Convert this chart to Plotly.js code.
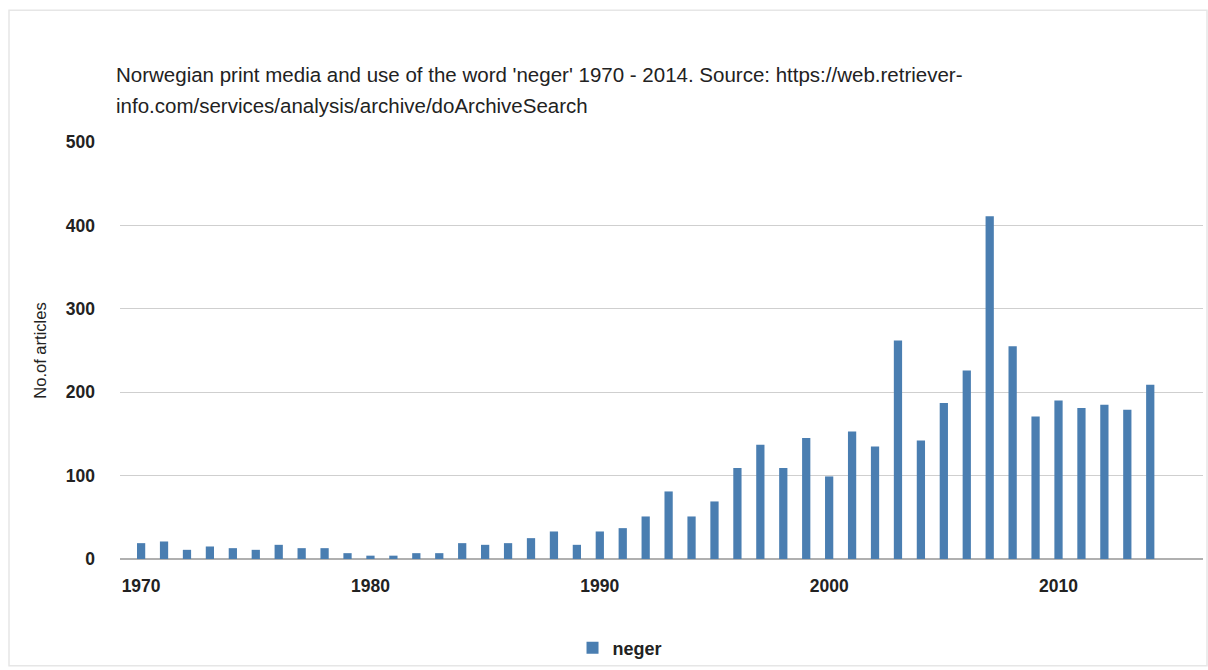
<!DOCTYPE html>
<html>
<head>
<meta charset="utf-8">
<script src="https://cdn.plot.ly/plotly-3.0.1.min.js"></script>
<style>
  html, body { margin: 0; padding: 0; background: #fff; }
  #chart { width: 1208px; height: 670px; }
</style>
</head>
<body>
<div id="chart"></div>
<script>
const years = [1970,1971,1972,1973,1974,1975,1976,1977,1978,1979,
               1980,1981,1982,1983,1984,1985,1986,1987,1988,1989,
               1990,1991,1992,1993,1994,1995,1996,1997,1998,1999,
               2000,2001,2002,2003,2004,2005,2006,2007,2008,2009,
               2010,2011,2012,2013,2014];
const articles = [19,21,11,15,13,11,17,13,13,7,
                  4,4,7,7,19,17,19,25,33,17,
                  33,37,51,81,51,69,109,137,109,145,
                  99,153,135,262,142,187,226,411,255,171,
                  190,181,185,179,209];
const seriesName = 'neger';
const titleLine1 = "Norwegian print media and use of the word 'neger' 1970 - 2014. Source: https://web.retriever-";
const titleLine2 = "info.com/services/analysis/archive/doArchiveSearch";
const yTicks = [0,100,200,300,400,500];
const xTicks = [1970,1980,1990,2000,2010];

const trace = {
  type: 'bar',
  x: years,
  y: articles,
  name: seriesName,
  width: 0.36,
  marker: { color: '#4a7eb1' },
  showlegend: true
};

const font = "'Liberation Sans', Arial, sans-serif";

const layout = {
  width: 1208,
  height: 670,
  margin: { l: 120, r: 5, t: 142, b: 110 },
  paper_bgcolor: '#ffffff',
  plot_bgcolor: '#ffffff',
  font: { family: font, color: '#222222' },
  title: {
    text: titleLine1,
    font: { family: font, size: 20.5, color: '#222222' },
    x: 116 / 1208,
    xref: 'container',
    xanchor: 'left',
    y: 1 - 75 / 670,
    yref: 'container',
    yanchor: 'middle'
  },
  annotations: [{
    text: titleLine2,
    xref: 'paper', yref: 'paper',
    x: (114 - 120) / 1083,
    y: (560 - 105) / 418,
    xanchor: 'left', yanchor: 'middle',
    showarrow: false,
    font: { family: font, size: 20.5, color: '#222222' }
  }],
  xaxis: {
    range: [1969.08, 2016.3],
    tickvals: xTicks,
    ticktext: xTicks.map(String),
    ticks: '',
    showgrid: false,
    zeroline: false,
    showline: false,
    ticklabelstandoff: 14,
    tickfont: { family: font, size: 17.5, color: '#222222', weight: 'bold' }
  },
  yaxis: {
    range: [0, 500],
    tickvals: yTicks,
    ticktext: yTicks.map(String),
    ticks: '',
    showgrid: true,
    gridcolor: '#cfcfcf',
    gridwidth: 1.2,
    zeroline: true,
    zerolinecolor: '#b0b0b0',
    zerolinewidth: 1.5,
    showline: false,
    ticklabelstandoff: 24,
    tickfont: { family: font, size: 17.5, color: '#222222', weight: 'bold' },
    title: {
      text: 'No.of articles',
      font: { family: font, size: 16.5, color: '#222222' },
      standoff: 15
    }
  },
  showlegend: true,
  legend: {
    orientation: 'h',
    x: 0.4617, xanchor: 'center',
    y: -0.2105, yanchor: 'middle',
    font: { family: font, size: 18, color: '#222222', weight: 'bold' },
    bgcolor: 'rgba(0,0,0,0)'
  },
  shapes: [{
    type: 'rect',
    xref: 'paper', yref: 'paper',
    x0: (9 - 120) / 1083, x1: (1207 - 120) / 1083,
    y0: (560 - 667) / 418, y1: (560 - 10) / 418,
    line: { color: '#e6e6e6', width: 1.5 },
    fillcolor: 'rgba(0,0,0,0)',
    layer: 'below'
  }],
  bargap: 0.6
};

Plotly.newPlot('chart', [trace], layout, { displayModeBar: false, staticPlot: true });
</script>
</body>
</html>
